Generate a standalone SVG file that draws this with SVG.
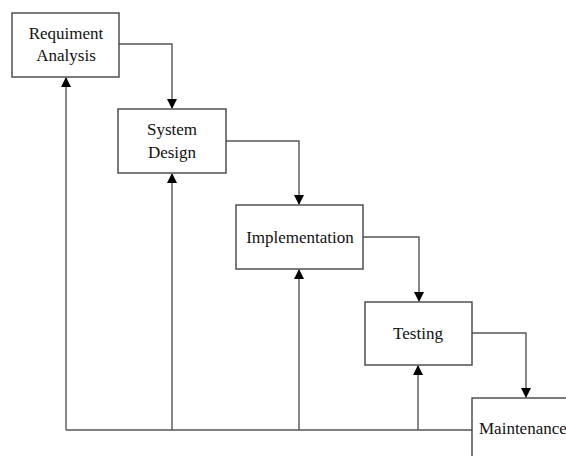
<svg xmlns="http://www.w3.org/2000/svg" width="566" height="456" viewBox="0 0 566 456">
<style>
.box{fill:#fff;stroke:#444;stroke-width:1.4}
.lbl{font-family:"Liberation Serif","Times New Roman",serif;font-size:17px;fill:#111;text-anchor:middle}
.ln{fill:none;stroke:#555;stroke-width:1.4}
</style>
<defs>
<marker id="ah" markerWidth="10" markerHeight="10" refX="9" refY="5" orient="auto" markerUnits="userSpaceOnUse">
<path d="M0,0 L10,5 L0,10 Z" fill="#000"/>
</marker>
</defs>
<rect width="566" height="456" fill="#fff"/>
<g id="connectors">
<path class="ln" d="M119,44 H172 V108" marker-end="url(#ah)"/>
<path class="ln" d="M226,141 H299 V204" marker-end="url(#ah)"/>
<path class="ln" d="M363,237 H419 V301" marker-end="url(#ah)"/>
<path class="ln" d="M472,333 H526 V397" marker-end="url(#ah)"/>
<path class="ln" d="M472,430 H66"/>
<path class="ln" d="M66,430 V78" marker-end="url(#ah)"/>
<path class="ln" d="M172,430 V174" marker-end="url(#ah)"/>
<path class="ln" d="M299,430 V270" marker-end="url(#ah)"/>
<path class="ln" d="M418,430 V366" marker-end="url(#ah)"/>
</g>
<g id="req">
<rect class="box" x="12" y="13" width="107" height="64"/>
<text class="lbl" x="66" y="39">Requiment</text>
<text class="lbl" x="66" y="61">Analysis</text>
</g>
<g id="design">
<rect class="box" x="118" y="109" width="108" height="64"/>
<text class="lbl" x="172" y="135">System</text>
<text class="lbl" x="172" y="158">Design</text>
</g>
<g id="impl">
<rect class="box" x="236" y="205" width="127" height="64"/>
<text class="lbl" x="300" y="243">Implementation</text>
</g>
<g id="test">
<rect class="box" x="365" y="302" width="107" height="63"/>
<text class="lbl" x="418" y="339">Testing</text>
</g>
<g id="maint">
<rect class="box" x="472" y="398" width="120" height="70"/>
<text class="lbl" x="479" y="434" style="text-anchor:start">Maintenance</text>
</g>
</svg>
